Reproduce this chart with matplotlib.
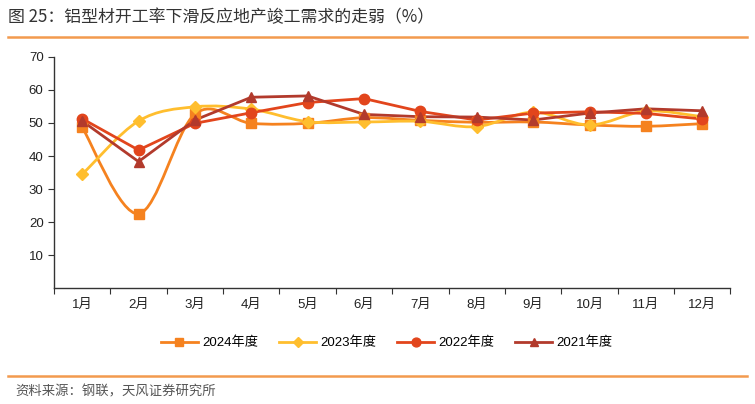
import numpy as np
import matplotlib
matplotlib.use('Agg')
import matplotlib.pyplot as plt
from matplotlib.path import Path
from matplotlib.patches import PathPatch
from matplotlib.lines import Line2D

plt.rcParams['font.family'] = ['Liberation Sans', 'Noto Sans CJK SC', 'DejaVu Sans']

# data
months = ['1月', '2月', '3月', '4月', '5月', '6月', '7月', '8月', '9月', '10月', '11月', '12月']
y2024 = [48.7, 22.5, 52.7, 49.9, 49.9, 51.6, 50.8, 50.2, 50.3, 49.4, 49.0, 49.8]
y2023 = [34.4, 50.6, 54.9, 54.2, 50.4, 50.3, 50.5, 48.9, 53.3, 49.4, 53.6, 51.9]
y2022 = [51.3, 41.8, 49.9, 53.1, 56.2, 57.4, 53.5, 50.9, 53.0, 53.4, 52.9, 51.2]
y2021 = [50.6, 38.3, 50.9, 57.8, 58.2, 52.6, 51.9, 51.8, 50.9, 53.0, 54.3, 53.7]

# name, values, colour, marker, smoothed line?
series = [
    ('2024年度', y2024, '#F5821F', 's', True),
    ('2023年度', y2023, '#FFBE2E', 'D', True),
    ('2022年度', y2022, '#E2451C', 'o', False),
    ('2021年度', y2021, '#B23A2C', '^', False),
]


def smooth_path(xs, ys):
    # excel-style smoothed line: cubic bezier through each point
    pts = np.column_stack([xs, ys]).astype(float)
    n = len(pts)
    verts = [pts[0]]
    codes = [Path.MOVETO]
    for i in range(n - 1):
        p0 = pts[max(i - 1, 0)]
        p1 = pts[i]
        p2 = pts[i + 1]
        p3 = pts[min(i + 2, n - 1)]
        c1 = p1 + (p2 - p0) / 6
        c2 = p2 - (p3 - p1) / 6
        verts += [c1, c2, p2]
        codes += [Path.CURVE4] * 3
    return Path(verts, codes)


fig = plt.figure(figsize=(7.55, 4.04), dpi=100)
ax = fig.add_axes([0.0715, 0.287, 0.896, 0.572])

x = np.arange(len(months))
handles = []
for name, vals, col, mk, smooth in series:
    if smooth:
        ax.add_patch(PathPatch(smooth_path(x, vals), facecolor='none', edgecolor=col, lw=2.0, zorder=2))
    else:
        ax.plot(x, vals, color=col, lw=2.0, zorder=2)
    ms = 7.5 if mk in ('^', 'o') else 6.5
    if mk == 'D':
        ms = 6
    ax.plot(x, vals, linestyle='none', marker=mk, color=col, markersize=ms, zorder=3)
    handles.append(Line2D([], [], color=col, lw=2.0, marker=mk, markersize=ms * 0.85, label=name))

ax.set_xlim(-0.5, 11.5)
ax.set_ylim(0, 70)
ax.set_yticks(range(10, 80, 10))
ax.set_xticks(np.arange(-0.5, 12, 1))
ax.set_xticklabels([])
ax.set_xticks(x, minor=True)
ax.set_xticklabels(months, minor=True)
ax.tick_params(axis='x', which='major', length=4, direction='out', color='#333333')
ax.tick_params(axis='x', which='minor', length=0, pad=8, labelsize=9.5, labelcolor='#222222')
ax.tick_params(axis='y', length=4, direction='out', color='#333333', labelsize=9.5, labelcolor='#222222')
for s in ['top', 'right']:
    ax.spines[s].set_visible(False)
for s in ['left', 'bottom']:
    ax.spines[s].set_color('#333333')
    ax.spines[s].set_linewidth(1.0)

fig.legend(handles=handles, loc='center', bbox_to_anchor=(0.512, 0.151), ncol=4, frameon=False,
           fontsize=9.5, handlelength=2.8, columnspacing=1.6, handletextpad=0.3)

# title, rules and source
fig.text(0.011, 0.958, '图 25：铝型材开工率下滑反应地产竣工需求的走弱（%）', fontsize=12.2,
         color='#333333', va='center', family=['Noto Sans CJK SC', 'DejaVu Sans'])
fig.add_artist(Line2D([0.011, 0.99], [0.908, 0.908], color='#F39A4E', lw=1.8))
fig.add_artist(Line2D([0.011, 0.99], [0.069, 0.069], color='#F39A4E', lw=1.8))
fig.text(0.02, 0.032, '资料来源：钢联，天风证券研究所', fontsize=9.6, color='#555555', va='center',
         family=['Noto Sans CJK SC', 'DejaVu Sans'])

fig.savefig('out.png', dpi=100)
